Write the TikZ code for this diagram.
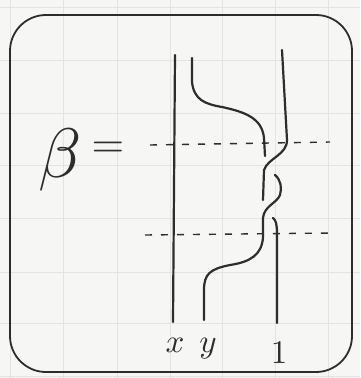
\documentclass[tikz,border=0pt]{standalone}
\usepackage{graphicx}
\usepackage{tikz}
\definecolor{paper}{RGB}{246,246,244}
\definecolor{gridc}{RGB}{226,228,228}
\definecolor{ink}{RGB}{45,45,45}
\tikzset{
  strand/.style={draw=ink, line width=2.2pt, line cap=round},
  cutline/.style={draw=ink, line width=1.4pt, dash pattern=on 7pt off 9pt},
  framebox/.style={draw=ink, line width=1.8pt, rounded corners=36pt},
  gridline/.style={draw=gridc, line width=0.6pt},
  lab/.style={text=ink, inner sep=0pt},
}
\begin{document}
\begin{tikzpicture}[x=1pt,y=-1pt]
\useasboundingbox (0,0) rectangle (360,378);
\fill[paper] (0,0) rectangle (360,378);
% graph paper grid
\foreach \gx in {10,63,117,170,222,275,328} \draw[gridline] (\gx,0) -- (\gx,378);
\foreach \gy in {7,60,113,165,218,272,323,376} \draw[gridline] (0,\gy) -- (360,\gy);
% frame
\draw[framebox] (10,15) rectangle (352,372);
% beta =
\node[lab] (beta) at (60,160) {\scalebox{7}{$\beta$}};
\node[lab, anchor=base] (eq) at (108,157) {\scalebox{4.2}{$=$}};
% strand x
\draw[strand] (175,55) -- (173,322);
% strand y
\draw[strand] (192,58) -- (192,82) .. controls (194,100) and (205,104) .. (222,107)
  .. controls (245,112) and (262,118) .. (264,138) -- (265,156);
\draw[strand] (275,175) .. controls (281,180) and (282,188) .. (280,195)
  .. controls (277,203) and (264,206) .. (263,218) -- (263,237)
  .. controls (262,255) and (250,262) .. (230,265)
  .. controls (210,269) and (204,274) .. (204,290) -- (204,320);
% strand 1
\draw[strand] (282,50) -- (287,140) .. controls (287,155) and (268,158) .. (264,170) -- (263,200);
\draw[strand] (273,218) .. controls (276,220) and (277,225) .. (277,233) -- (277,323);
% dashed levels
\draw[cutline] (150,145) -- (330,142);
\draw[cutline] (145,235) -- (332,233);
% labels
\node[lab, anchor=base] (lx) at (175,352) {\scalebox{3.3}{$x$}};
\node[lab, anchor=base] (ly) at (208,352) {\scalebox{3.3}{$y$}};
\node[lab, anchor=base] (l1) at (279,363) {\scalebox{3.3}{$1$}};
\end{tikzpicture}
\end{document}
